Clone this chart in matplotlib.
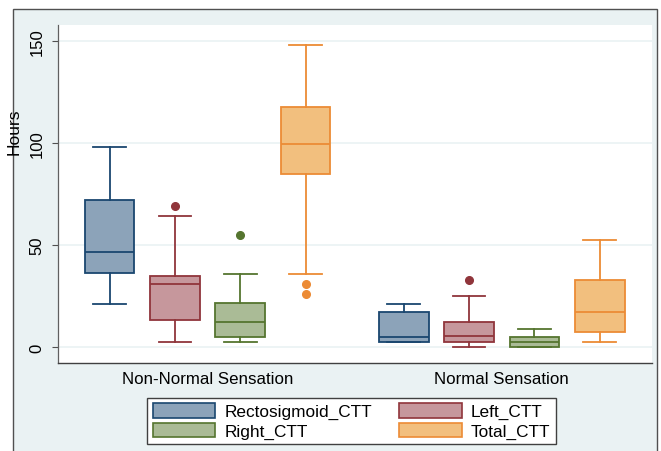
"""Box plot of colonic transit times by rectal sensation group (Stata s2color look)."""

import matplotlib
matplotlib.use("Agg")
import matplotlib.pyplot as plt
from matplotlib.patches import Patch, Rectangle

plt.rcParams["font.family"] = ["Liberation Sans", "DejaVu Sans"]

# ── Data (hours), one entry per sensation group ──
groups = ["Non-Normal Sensation", "Normal Sensation"]
series = ["Rectosigmoid_CTT", "Left_CTT", "Right_CTT", "Total_CTT"]

rect_lo = [21, 2.3]
rect_q1 = [36.3, 2.3]
rect_med = [46.6, 5.1]
rect_q3 = [72, 17.2]
rect_hi = [98, 21]
rect_out = [[], []]

left_lo = [2.5, 0]
left_q1 = [13.2, 2.3]
left_med = [30.7, 5.2]
left_q3 = [35, 12.1]
left_hi = [64, 24.8]
left_out = [[69], [33]]

right_lo = [2.5, 0]
right_q1 = [5.1, 0]
right_med = [12.1, 2.5]
right_q3 = [21.6, 5]
right_hi = [36, 8.8]
right_out = [[55], []]

total_lo = [36, 2.6]
total_q1 = [85, 7.5]
total_med = [99.6, 17.2]
total_q3 = [117.6, 33]
total_hi = [148, 52.5]
total_out = [[31, 26], []]

yticks = [0, 50, 100, 150]

# ── Styles ──
edge_colors = ["#1A476F", "#90353B", "#55752F", "#EC8B35"]
fill_colors = ["#8CA3B9", "#C6979C", "#AABB96", "#F2BF7E"]
bg = "#EAF2F3"

stats_by_series = [
    (rect_lo, rect_q1, rect_med, rect_q3, rect_hi, rect_out),
    (left_lo, left_q1, left_med, left_q3, left_hi, left_out),
    (right_lo, right_q1, right_med, right_q3, right_hi, right_out),
    (total_lo, total_q1, total_med, total_q3, total_hi, total_out),
]

fig = plt.figure(figsize=(6.61, 4.52), dpi=100, facecolor="white")
# outer graph region
fig.patches.append(Rectangle((13 / 661, -0.02), 644 / 661, 1.02 - 10 / 452,
                             transform=fig.transFigure, facecolor=bg,
                             edgecolor="#505050", linewidth=1.0, zorder=-5))

ax = fig.add_axes([58 / 661, 88 / 452, 594 / 661, 338 / 452])
ax.set_zorder(1)
ax.set_facecolor("white")

group_gap = 4.5
for si, (lo, q1, med, q3, hi, out) in enumerate(stats_by_series):
    bstats = []
    positions = []
    for gi in range(len(groups)):
        bstats.append({"whislo": lo[gi], "q1": q1[gi], "med": med[gi],
                       "q3": q3[gi], "whishi": hi[gi], "fliers": out[gi]})
        positions.append(gi * group_gap + si)
    ec = edge_colors[si]
    ax.bxp(bstats, positions=positions, widths=0.76, capwidths=0.5,
           patch_artist=True, showfliers=True,
           boxprops=dict(facecolor=fill_colors[si], edgecolor=ec, linewidth=1.3),
           medianprops=dict(color=ec, linewidth=1.3),
           whiskerprops=dict(color=ec, linewidth=1.3),
           capprops=dict(color=ec, linewidth=1.3),
           flierprops=dict(marker="o", markerfacecolor=ec, markeredgecolor=ec,
                           markersize=5.5))

ax.set_xlim(-0.79, 8.30)
ax.set_ylim(-7.8, 157.8)

ax.set_yticks(yticks)
ax.set_yticklabels([str(v) for v in yticks], rotation=90, va="center")
ax.tick_params(axis="y", length=4.3, width=0.8, color="#505050", pad=5.5,
               labelsize=12)
ax.set_xticks([1.5, group_gap + 1.5])
ax.set_xticklabels(groups)
ax.tick_params(axis="x", length=0, pad=6, labelsize=12.2)

ax.grid(axis="y", color=bg, linewidth=1.2)
ax.set_axisbelow(True)

for side in ["top", "right"]:
    ax.spines[side].set_visible(False)
ax.spines["left"].set_color("#606060")
ax.spines["bottom"].set_color("#404040")
ax.spines["left"].set_linewidth(0.9)
ax.spines["bottom"].set_linewidth(1.0)

ax.set_ylabel("Hours", fontsize=12.5)
ax.yaxis.set_label_coords(-0.0614, 0.687)

handles = [Patch(facecolor=fill_colors[i], edgecolor=edge_colors[i], linewidth=1.2)
           for i in range(len(series))]
# order so columns read: Rectosigmoid, Left / Right, Total
order = [0, 2, 1, 3]
leg = fig.legend([handles[i] for i in order], [series[i] for i in order],
                 ncol=2, loc="center", bbox_to_anchor=(351.5 / 661, 1 - 422 / 452),
                 fontsize=12.4, handlelength=3.65, handleheight=0.93,
                 handletextpad=0.52, columnspacing=1.57, labelspacing=0.2,
                 borderpad=0.3, fancybox=False, frameon=True, framealpha=1.0)
leg.set_zorder(5)
leg.get_frame().set_edgecolor("#404040")
leg.get_frame().set_linewidth(1.0)

fig.savefig("out.png", dpi=100, facecolor=fig.get_facecolor())
